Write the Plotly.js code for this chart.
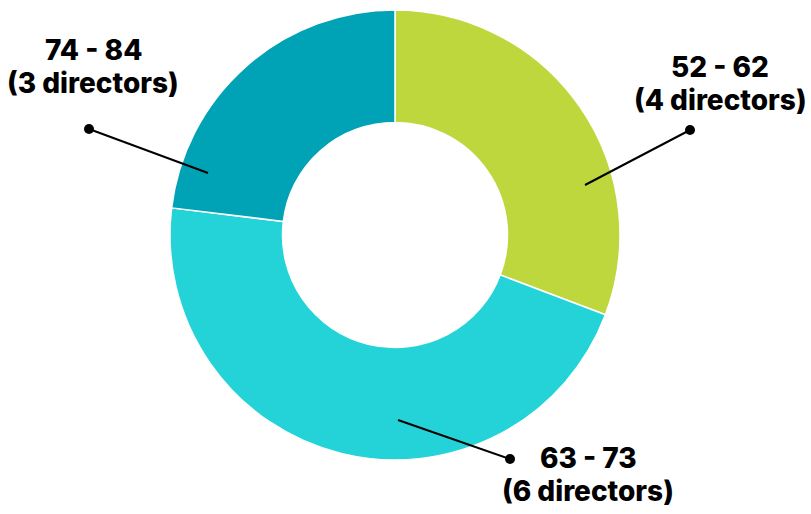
<!DOCTYPE html>
<html>
<head>
<meta charset="utf-8">
<script src="https://cdn.plot.ly/plotly-3.0.1.min.js"></script>
<style>
  html, body { margin: 0; padding: 0; background: #ffffff; }
  #chart { width: 811px; height: 514px; }
</style>
</head>
<body>
<div id="chart"></div>
<script>
// age bands of the board, counted clockwise from 12 o'clock
var ageBands = ["52 - 62", "63 - 73", "74 - 84"];
var directorCounts = [4, 6, 3];
var sliceColors = ["#BDD73C", "#24D3D8", "#00A3B5"];

var W = 811, H = 514;
function px(x) { return x / W; }
function py(y) { return 1 - y / H; }

// label placement (pixels): text centre x, line 1 / line 2 y, leader line inner end, dot
var labelPos = [
  {tx: 720, ty1: 67,  ty2: 100, x0: 585, y0: 185, x1: 690, y1: 130},
  {tx: 588, ty1: 458, ty2: 491, x0: 398, y0: 420, x1: 510, y1: 459},
  {tx: 93,  ty1: 50,  ty2: 83,  x0: 208, y0: 173, x1: 89,  y1: 129}
];

var trace1 = {
  type: 'pie',
  values: directorCounts,
  labels: ageBands,
  hole: 0.5,
  sort: false,
  direction: 'clockwise',
  rotation: 0,
  textinfo: 'none',
  hoverinfo: 'label+value',
  marker: {
    colors: sliceColors,
    line: {color: '#ffffff', width: 1.5}
  },
  domain: {x: [px(170), px(620)], y: [py(460), py(10)]}
};

var labelFont = {family: 'Inter, Roboto, sans-serif', size: 28, color: '#000000', weight: 800};

var shapes = [];
var annotations = [];
for (var i = 0; i < ageBands.length; i++) {
  var p = labelPos[i];
  shapes.push({
    type: 'line', xref: 'paper', yref: 'paper',
    x0: px(p.x0), y0: py(p.y0), x1: px(p.x1), y1: py(p.y1),
    line: {color: '#000000', width: 2}
  });
  shapes.push({
    type: 'circle', xref: 'paper', yref: 'paper',
    x0: px(p.x1 - 5), x1: px(p.x1 + 5), y0: py(p.y1 + 5), y1: py(p.y1 - 5),
    fillcolor: '#000000', line: {color: '#000000', width: 0}
  });
  var lines = [ageBands[i], '(' + directorCounts[i] + ' directors)'];
  var ys = [p.ty1, p.ty2];
  for (var j = 0; j < 2; j++) {
    annotations.push({
      xref: 'paper', yref: 'paper',
      x: px(p.tx), y: py(ys[j]),
      xanchor: 'center', yanchor: 'middle', align: 'center',
      showarrow: false,
      text: lines[j],
      font: labelFont
    });
  }
}

var layout = {
  width: W,
  height: H,
  margin: {l: 0, r: 0, t: 0, b: 0},
  showlegend: false,
  paper_bgcolor: '#ffffff',
  shapes: shapes,
  annotations: annotations
};

Plotly.newPlot('chart', [trace1], layout, {displayModeBar: false});
</script>
</body>
</html>
